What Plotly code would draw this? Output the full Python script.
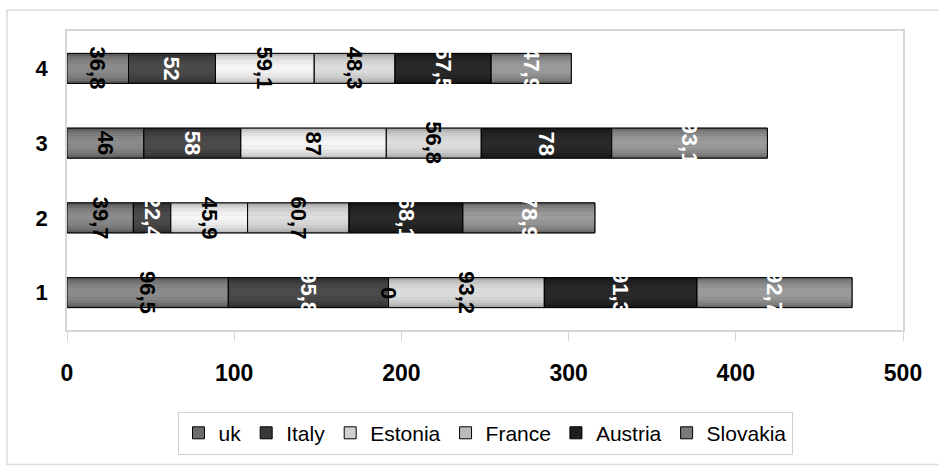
import math
import plotly.graph_objects as go

# Stacked horizontal bars, one row per group
groups = [1, 2, 3, 4]
group_labels = ["1", "2", "3", "4"]

uk = [96.5, 39.7, 46.0, 36.8]
italy = [95.8, 22.4, 58.0, 52.0]
estonia = [0.0, 45.9, 87.0, 59.1]
france = [93.2, 60.7, 56.8, 48.3]
austria = [91.3, 68.1, 78.0, 57.5]
slovakia = [92.7, 78.9, 93.1, 47.9]

x_ticks = [0, 100, 200, 300, 400, 500]

# name, values, centre shade, edge shade, label colour
series = [
    ("uk", uk, 0x8c, 0x4c, "black"),
    ("Italy", italy, 0x4c, 0x26, "white"),
    ("Estonia", estonia, 0xf6, 0xaa, "black"),
    ("France", france, 0xdd, 0x96, "black"),
    ("Austria", austria, 0x2a, 0x12, "white"),
    ("Slovakia", slovakia, 0x9c, 0x58, "white"),
]

BAR_W = 0.4
N_STRIPS = 12


def grey(v):
    v = max(0, min(255, int(round(v))))
    return f"rgb({v},{v},{v})"


fig = go.Figure()
annotations = []
base = [0.0] * len(groups)
for name, vals, centre, edge, txtcol in series:
    b0 = base[:]
    # legend entry / solid underlay
    fig.add_trace(go.Bar(
        name=name, y=groups, x=vals, base=b0, orientation="h", width=BAR_W,
        marker=dict(color=grey((centre + edge) / 2), line=dict(color="black", width=1)),
        legendgroup=name,
    ))
    # cylinder-like shading made of thin horizontal strips
    for i in range(N_STRIPS):
        t = (i + 0.5) / N_STRIPS
        shade = edge + (centre - edge) * math.sin(math.pi * t) ** 0.6
        fig.add_trace(go.Bar(
            y=groups, x=vals, base=b0, orientation="h",
            width=BAR_W / N_STRIPS * 1.08, offset=-BAR_W / 2 + i * BAR_W / N_STRIPS,
            marker=dict(color=grey(shade), line=dict(width=0)),
            showlegend=False, legendgroup=name, hoverinfo="skip",
        ))
    # crisp outline over the shading
    fig.add_trace(go.Bar(
        y=groups, x=vals, base=b0, orientation="h", width=BAR_W,
        marker=dict(color="rgba(0,0,0,0)", line=dict(color="black", width=1)),
        showlegend=False, legendgroup=name, hoverinfo="skip",
    ))
    for g, b, v in zip(groups, b0, vals):
        annotations.append(dict(
            x=b + v / 2, y=g, xref="x", yref="y",
            text="<b>" + f"{v:g}".replace(".", ",") + "</b>",
            showarrow=False, textangle=90,
            font=dict(family="Liberation Sans", size=22, color=txtcol),
        ))
    base = [b + v for b, v in zip(b0, vals)]

# outer frame around the whole chart area
shapes = [dict(type="rect", xref="paper", yref="paper",
               x0=-0.0718, x1=1.05, y0=-0.45, y1=1.069,
               line=dict(color="#dcdcdc", width=1.5), fillcolor="rgba(0,0,0,0)")]

fig.update_layout(
    width=939, height=466,
    margin=dict(l=67, r=36, t=31, b=131),
    paper_bgcolor="white", plot_bgcolor="white",
    barmode="overlay",
    showlegend=True,
    legend=dict(orientation="h", x=0.5, xanchor="center", y=-0.345, yanchor="middle",
                traceorder="normal", itemwidth=30,
                font=dict(family="Liberation Sans", size=21, color="black"),
                bordercolor="#d0d0d0", borderwidth=1, bgcolor="white"),
    xaxis=dict(range=[0, 500], tickvals=x_ticks, ticktext=[str(t) for t in x_ticks],
               showgrid=False, zeroline=False,
               showline=True, linecolor="#d6d6d6", linewidth=1.5, mirror=True,
               ticks="outside", ticklen=9, tickcolor="#d6d6d6", ticklabelstandoff=13,
               tickfont=dict(family="Liberation Sans", size=23, color="black", weight="bold")),
    yaxis=dict(range=[0.5, 4.5], tickvals=groups, ticktext=group_labels,
               showgrid=False, zeroline=False,
               showline=True, linecolor="#d6d6d6", linewidth=1.5, mirror=True,
               ticks="", ticklen=0, ticklabelstandoff=13,
               tickfont=dict(family="Liberation Sans", size=22, color="black", weight="bold")),
    annotations=annotations,
    shapes=shapes,
)

fig.write_html("out.html")
